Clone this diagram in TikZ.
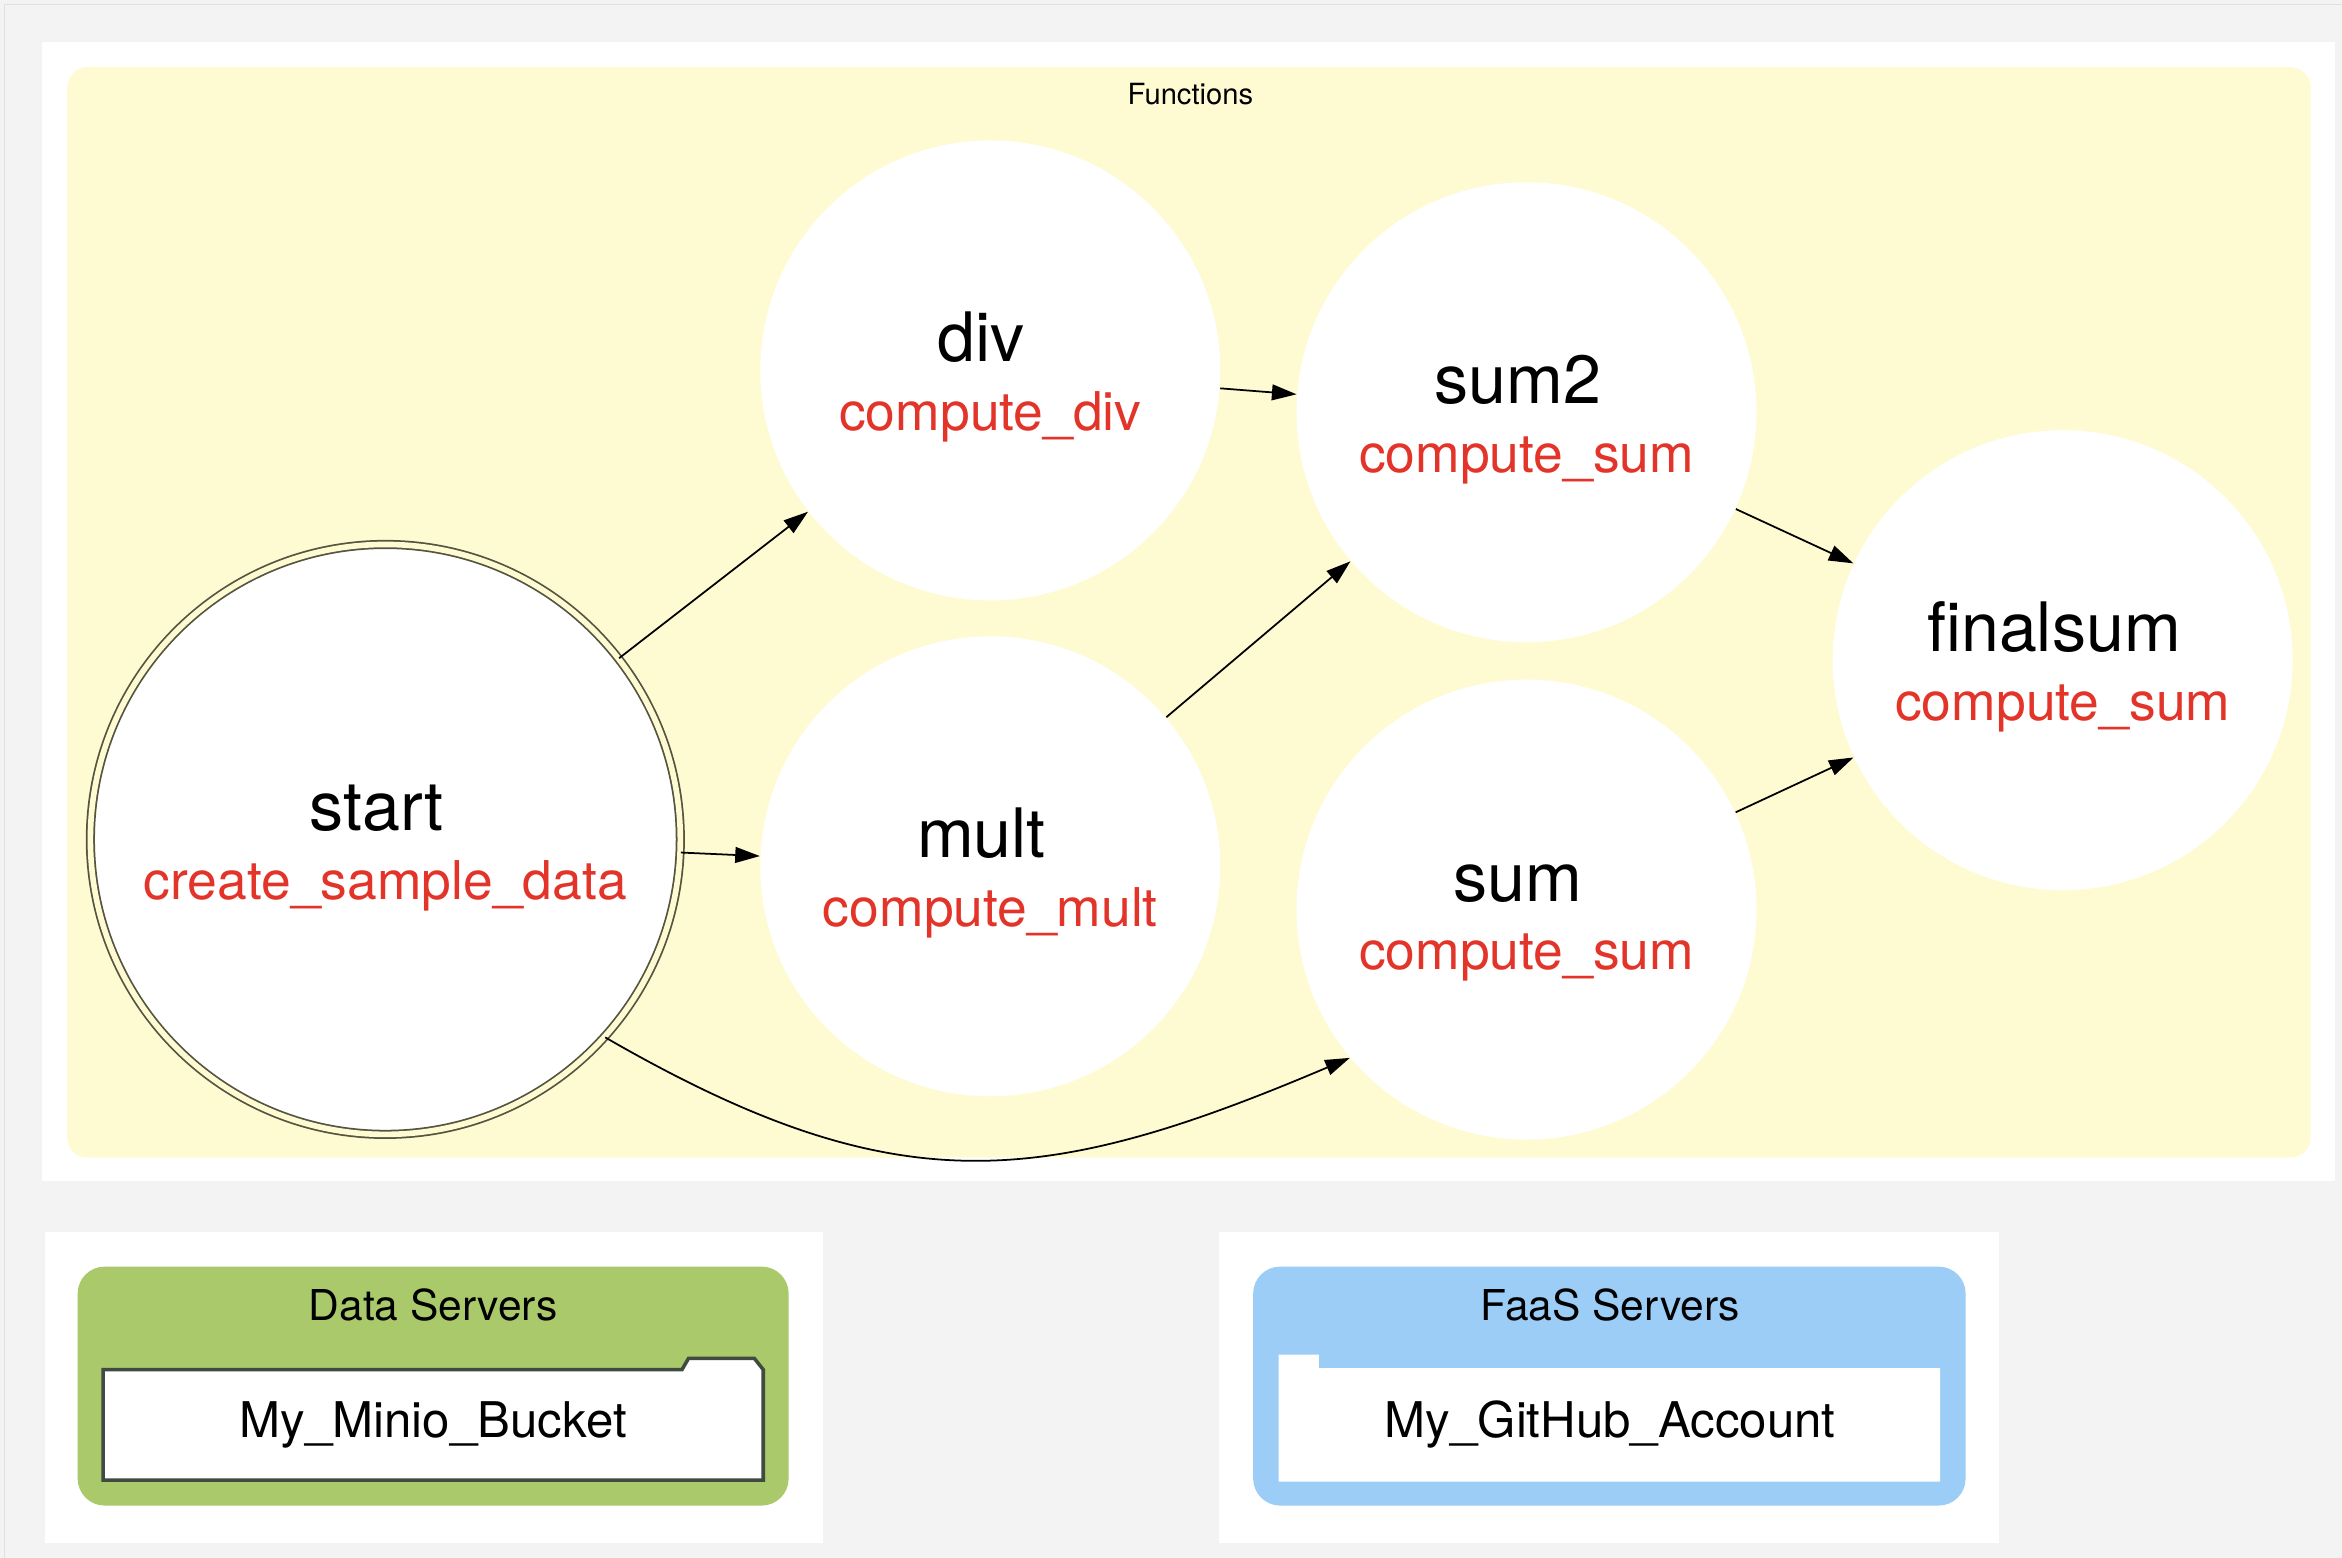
\documentclass[tikz,border=0pt]{standalone}
\usepackage{fontspec}
\setmainfont{TeX Gyre Heros}
\usepackage{tikz}
\usetikzlibrary{arrows.meta}
\definecolor{pagegray}{HTML}{F3F3F3}
\definecolor{fnyellow}{HTML}{FEFBD3}
\definecolor{fnred}{HTML}{E3342A}
\definecolor{datagreen}{HTML}{A9C96B}
\definecolor{faasblue}{HTML}{9BCDF6}
\definecolor{startline}{HTML}{55553F}
\definecolor{folderline}{HTML}{3F4A40}
\newcommand{\fnlabel}[2]{\rule{0pt}{18pt}#1\kern5pt\\{\color{fnred}\fontsize{15.2}{19.5}\selectfont #2}}

\begin{document}
\begin{tikzpicture}[x=0.014936cm, y=-0.014936cm,
  >={Triangle[length=7pt,width=4.5pt]},
  fn/.style={circle, fill=white, minimum size=4.6cm, inner sep=0pt, align=center, font=\fontsize{19.4}{19.5}\selectfont},
  startnode/.style={fn, minimum size=5.9cm, draw=startline, line width=0.5pt, double=fnyellow, double distance=1.6pt},
  flow/.style={->, line width=0.5pt},
  title/.style={font=\fontsize{12.1}{14}\selectfont},
  box/.style={font=\fontsize{14}{16}\selectfont}]
\useasboundingbox (0,0) rectangle (1568,1043);
\fill[pagegray] (0,0) rectangle (1568,1043);
\draw[black!12] (3,1043) -- (3,3) -- (1568,3);
\fill[white] (28,28) rectangle (1563,791);
\fill[white] (30,825) rectangle (551,1033);
\fill[white] (816,825) rectangle (1338,1033);
% Functions
\fill[fnyellow, rounded corners=0.2cm] (45,45) rectangle (1547,775);
\node[font=\fontsize{8.3}{10}\selectfont] (functions) at (797,63) {Functions};
\node[startnode] (start) at (258,562) {\fnlabel{start}{create\_sample\_data}};
\foreach \n/\x/\y/\f in {div/663/248/compute\_div, mult/663/580/compute\_mult, sum2/1022/276/compute\_sum, sum/1022/609/compute\_sum, finalsum/1381/442/compute\_sum}
  \node[fn] (\n) at (\x,\y) {\fnlabel{\n}{\f}};
\foreach \a/\b in {start/div, start/mult, div/sum2, mult/sum2, sum2/finalsum, sum/finalsum}
  \draw[flow] (\a) -- (\b);
\draw[flow] (start.-42) to[out=-30, in=203, looseness=1.15] (sum.220);
% Data Servers
\fill[datagreen, rounded corners=0.27cm] (52,848) rectangle (528,1008);
\node[title] (dataservers) at (290,874) {Data Servers};
\filldraw[fill=white, draw=folderline, line width=1pt] (69,917) -- (456.6,917) -- (461,909.4) -- (505,909.4) -- (511,917) -- (511,991) -- (69,991) -- cycle;
\node[box] (minio) at (290,954) {My\_Minio\_Bucket};
% FaaS Servers
\fill[faasblue, rounded corners=0.27cm] (839,848) rectangle (1316,1008);
\node[title] (faasservers) at (1078,874) {FaaS Servers};
\fill[white] (856,907) -- (883,907) -- (883,916) -- (1299,916) -- (1299,992) -- (856,992) -- cycle;
\node[box] (github) at (1078,954) {My\_GitHub\_Account};
\end{tikzpicture}
\end{document}
